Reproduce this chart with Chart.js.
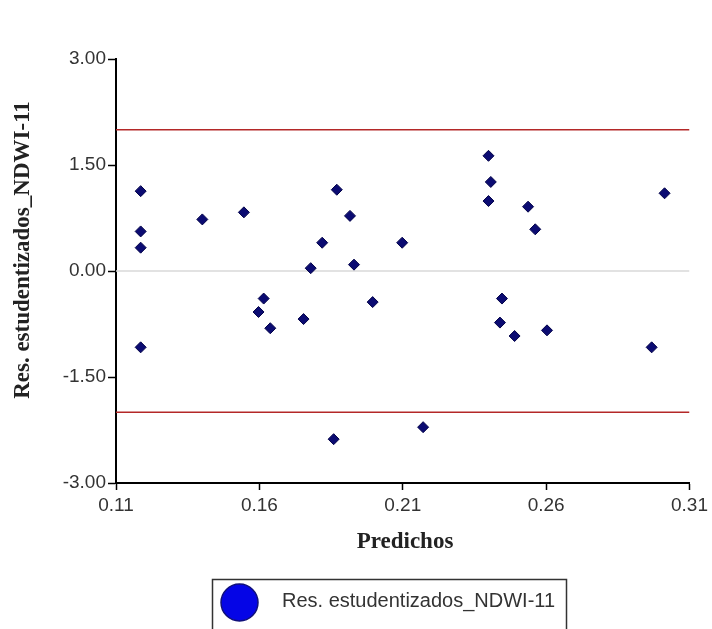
<!DOCTYPE html>
<html>
<head>
<meta charset="utf-8">
<script src="https://cdn.jsdelivr.net/npm/chart.js@4.4.0/dist/chart.umd.min.js"></script>
<style>
  html, body { margin: 0; padding: 0; background: #fff; }
  canvas { display: block; }
</style>
</head>
<body>
<canvas id="chart" width="712" height="629"></canvas>
<script>
// predicted values (x) and studentized residuals (y)
const predichos = [
  0.1186, 0.1186, 0.1186, 0.1186, 0.1401, 0.1546, 0.1597, 0.1615, 0.1638, 0.1754,
  0.1779, 0.1819, 0.1870, 0.1859, 0.1916, 0.1930, 0.1995, 0.2098, 0.2171, 0.2399,
  0.2407, 0.2399, 0.2446, 0.2439, 0.2490, 0.2537, 0.2562, 0.2603, 0.2968, 0.3013
];
const residuos = [
  1.13, 0.56, 0.33, -1.08, 0.73, 0.83, -0.58, -0.39, -0.81, -0.68,
  0.04, 0.40, 1.15, -2.38, 0.78, 0.09, -0.44, 0.40, -2.21, 1.63,
  1.26, 0.99, -0.39, -0.73, -0.92, 0.91, 0.59, -0.84, -1.08, 1.10
];
const xTicks = [0.11, 0.16, 0.21, 0.26, 0.31];
const yTicks = [-3, -1.5, 0, 1.5, 3];
const limitLines = [2, -2];
const zeroLine = [0];

const seriesLabel = 'Res. estudentizados_NDWI-11';
const xTitle = 'Predichos';
const yTitle = 'Res. estudentizados_NDWI-11';

const xMin = xTicks[0], xMax = xTicks[xTicks.length - 1];
const yMin = yTicks[0], yMax = yTicks[yTicks.length - 1];

const points = predichos.map((x, i) => ({ x, y: residuos[i] }));
const hLine = (v) => [{ x: xMin, y: v }, { x: xMax, y: v }];

const tickFont = { family: 'Liberation Sans, Arial, sans-serif', size: 19 };

// titles and boxed legend drawn by hand
const extrasPlugin = {
  id: 'extras',
  afterDraw(chart) {
    const { ctx, chartArea } = chart;
    ctx.save();

    // x title
    ctx.font = 'bold 23px "Liberation Serif", "Times New Roman", serif';
    ctx.fillStyle = '#222';
    ctx.textAlign = 'center';
    ctx.textBaseline = 'alphabetic';
    ctx.fillText(xTitle, 405, 548);

    // y title
    ctx.translate(29, 250);
    ctx.rotate(-Math.PI / 2);
    ctx.fillText(yTitle, 0, 0);
    ctx.setTransform(1, 0, 0, 1, 0, 0);

    // legend
    ctx.strokeStyle = '#333';
    ctx.lineWidth = 1.5;
    ctx.strokeRect(212.5, 579.5, 354, 70);

    ctx.beginPath();
    ctx.arc(239.5, 602.5, 18.5, 0, Math.PI * 2);
    ctx.fillStyle = '#0505e6';
    ctx.fill();
    ctx.strokeStyle = '#10107a';
    ctx.lineWidth = 1.5;
    ctx.stroke();

    ctx.font = '20px "Liberation Sans", Arial, sans-serif';
    ctx.fillStyle = '#333';
    ctx.textAlign = 'left';
    ctx.textBaseline = 'middle';
    ctx.fillText(chart.data.datasets[0].label, 282, 601);

    ctx.restore();
  },
};

const bgPlugin = {
  id: 'bg',
  beforeDraw(chart) {
    const { ctx, width, height } = chart;
    ctx.save();
    ctx.fillStyle = '#fff';
    ctx.fillRect(0, 0, width, height);
    ctx.restore();
  },
};

new Chart(document.getElementById('chart'), {
  type: 'scatter',
  data: {
    datasets: [
      {
        label: seriesLabel,
        data: points,
        pointStyle: 'rectRot',
        radius: 5.5,
        backgroundColor: '#0b0b72',
        borderColor: '#05054a',
        borderWidth: 1,
        order: 0,
      },
      ...limitLines.map((v) => ({
        type: 'line',
        label: 'lim',
        data: hLine(v),
        borderColor: '#b42828',
        borderWidth: 1.5,
        pointRadius: 0,
        order: 1,
      })),
      ...zeroLine.map((v) => ({
        type: 'line',
        label: 'cero',
        data: hLine(v),
        borderColor: '#d8d8d8',
        borderWidth: 1.5,
        pointRadius: 0,
        order: 2,
      })),
    ],
  },
  options: {
    responsive: false,
    animation: false,
    layout: { padding: { top: 59, right: 22, left: 0, bottom: 0 } },
    plugins: {
      legend: { display: false },
      tooltip: { enabled: false },
    },
    scales: {
      x: {
        type: 'linear',
        min: xMin,
        max: xMax,
        afterBuildTicks(scale) {
          scale.ticks = xTicks.map((v) => ({ value: v }));
        },
        afterFit(scale) {
          scale.height = 146;
        },
        ticks: {
          callback: (v) => v.toFixed(2),
          color: '#333',
          font: tickFont,
          padding: 4,
          maxRotation: 0,
        },
        grid: {
          drawOnChartArea: false,
          drawTicks: true,
          tickLength: 7,
          tickWidth: 1.5,
          tickColor: '#000',
        },
        border: { display: true, color: '#000', width: 2 },
      },
      y: {
        type: 'linear',
        min: yMin,
        max: yMax,
        afterBuildTicks(scale) {
          scale.ticks = yTicks.map((v) => ({ value: v }));
        },
        afterFit(scale) {
          scale.width = 116;
        },
        ticks: {
          callback: (v) => v.toFixed(2),
          color: '#333',
          font: tickFont,
          padding: 2,
        },
        grid: {
          drawOnChartArea: false,
          drawTicks: true,
          tickLength: 8,
          tickWidth: 1.5,
          tickColor: '#000',
        },
        border: { display: true, color: '#000', width: 2 },
      },
    },
  },
  plugins: [bgPlugin, extrasPlugin],
});
</script>
</body>
</html>
